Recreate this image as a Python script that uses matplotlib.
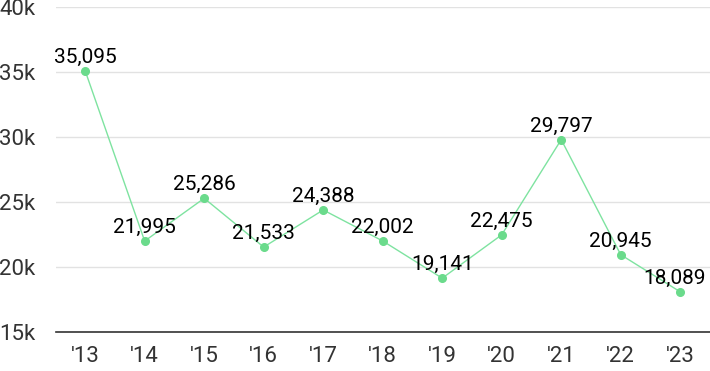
import matplotlib.pyplot as plt

plt.rcParams['font.family'] = ['Roboto', 'DejaVu Sans']

years = ["'13", "'14", "'15", "'16", "'17", "'18", "'19", "'20", "'21", "'22", "'23"]
values = [35095, 21995, 25286, 21533, 24388, 22002, 19141, 22475, 29797, 20945, 18089]
yticks = [15000, 20000, 25000, 30000, 35000, 40000]
ytick_labels = ['15k', '20k', '25k', '30k', '35k', '40k']

fig = plt.figure(figsize=(7.1, 3.71), dpi=100)
ax = fig.add_axes([56 / 710, 39 / 371, 654 / 710, 325 / 371])

x = range(len(years))
ax.plot(x, values, color='#7ee3a0', lw=1, marker='o', ms=5.5,
        mfc='#6bdb8c', mec='#6bdb8c', zorder=3)

for i, v in zip(x, values):
    # keep the last label inside the figure
    dx = -4 if i == len(values) - 1 else 0
    ax.annotate(f'{v:,}', (i, v), xytext=(dx, 3), textcoords='offset points',
                ha='center', va='bottom', fontsize=15, color='#000000')

ax.set_xlim(-0.49, 10.5)
ax.set_ylim(15000, 40000)
ax.set_yticks(yticks)
ax.set_yticklabels(ytick_labels)
ax.set_xticks(list(x))
ax.set_xticklabels(years)
ax.tick_params(axis='both', length=0, labelsize=16, colors='#333333')
ax.tick_params(axis='y', pad=15)
ax.tick_params(axis='x', pad=10)

ax.grid(axis='y', color='#e2e2e2', lw=1)
ax.set_axisbelow(True)
for s in ['top', 'right', 'left']:
    ax.spines[s].set_visible(False)
ax.spines['bottom'].set_color('#333333')
ax.spines['bottom'].set_linewidth(1.2)

fig.savefig('out.png', dpi=100)
